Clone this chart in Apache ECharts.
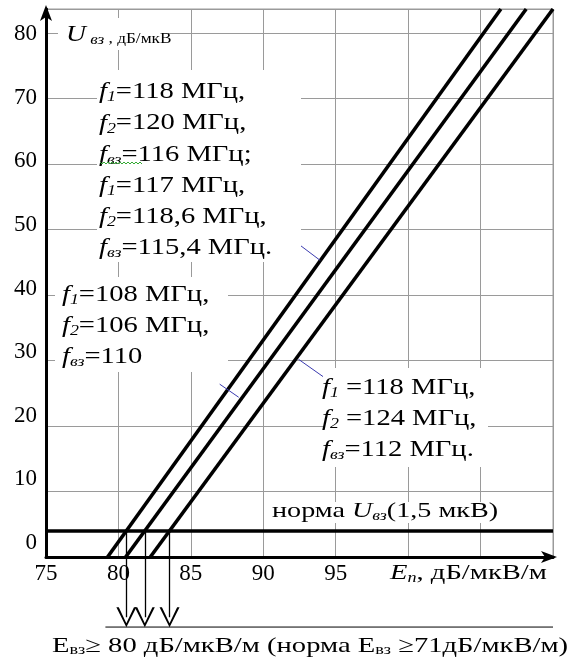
<!DOCTYPE html>
<html>
<head>
<meta charset="utf-8">
<script src="https://cdn.jsdelivr.net/npm/echarts@6/dist/echarts.min.js"></script>
<style>
html, body { margin: 0; padding: 0; background: #fff; }
#chart { width: 567px; height: 666px; }
</style>
</head>
<body>
<div id="chart"></div>
<script>
// E_n, дБ/мкВ/м on x ; U_вз, дБ/мкВ on y
var xTicks = [75, 80, 85, 90, 95];
var yTicks = [0, 10, 20, 30, 40, 50, 60, 70, 80];

// three intermodulation characteristics, end points [E_n, U_вз]
var line1 = [[79.25, 0], [106.4, 83.7]];
var line2 = [[80.5, 0], [108.15, 83.7]];
var line3 = [[82.2, 0], [110, 83.7]];

var normaU = 4; // норма U_вз (1,5 мкВ)

// thin blue callouts from the notes to the lines
var leader1 = [[92.55, 47.6], [93.93, 45.3]];
var leader2 = [[86.99, 26.4], [88.3, 24.4]];
var leader3 = [[92.43, 30.2], [94.16, 27.5]];

// notes: [subscript, text]
var note1 = [['1', '=118 МГц,'], ['2', '=120 МГц,'], ['вз', '=116 МГц;'],
             ['1', '=117 МГц,'], ['2', '=118,6 МГц,'], ['вз', '=115,4 МГц.']];
var note2 = [['1', '=108 МГц,'], ['2', '=106 МГц,'], ['вз', '=110']];
var note3 = [['1', ' =118 МГц,'], ['2', ' =124 МГц,'], ['вз', '=112 МГц.']];

var FONT = '"Liberation Serif", "Times New Roman", serif';
var ARROW_END = -9.2; // below the x axis, where the arrow shafts stop

function xAt(line, y) {
    var a = line[0], b = line[1];
    return a[0] + (b[0] - a[0]) * (y - a[1]) / (b[1] - a[1]);
}

function rich(size) {
    var sub = Math.round(size * 0.62);
    return {
        i: { fontStyle: 'italic', fontSize: size, fontFamily: FONT },
        s: { fontStyle: 'italic', fontSize: sub, fontFamily: FONT, padding: [Math.round(size * 0.45), 0, 0, 0] },
        u: { fontSize: sub, fontFamily: FONT, padding: [Math.round(size * 0.4), 0, 0, 0] },
        t: { fontSize: 15, fontFamily: FONT, padding: [8, 0, 0, 0] }
    };
}

function textEl(txt, x, y, size, sx) {
    return {
        type: 'text', x: x, y: y, scaleX: sx, z: 60,
        style: {
            text: txt, fontSize: size, fontFamily: FONT, fill: '#000',
            align: 'left', verticalAlign: 'middle', rich: rich(size)
        }
    };
}

function whiteBox(x, y, w, h) {
    return { type: 'rect', z: 50, shape: { x: x, y: y, width: w, height: h }, style: { fill: '#fff' } };
}

function noteEls(note, x, y0, step) {
    return note.map(function (n, k) {
        return textEl('{i|f}{s|' + n[0] + '}' + n[1], x, y0 + k * step, 24, 1.19);
    });
}

var graphics = [
    whiteBox(58, 18, 110, 32),
    whiteBox(97, 70, 204, 192),
    whiteBox(55, 277, 173, 95),
    whiteBox(323, 368, 165, 99),
    whiteBox(270, 502, 232, 21),
    textEl('{i|U}{s| вз}{t| , дБ/мкВ}', 66, 35, 24, 1.15),
    textEl('норма {i|U}{s|вз}(1,5 мкВ)', 272, 511, 22, 1.28),
    textEl('{i|E}{s|n}, дБ/мкВ/м', 390, 573, 22, 1.3),
    textEl('E{u|вз}≥ 80 дБ/мкВ/м (норма E{u|вз} ≥71дБ/мкВ/м)', 52, 646, 22, 1.3)
].concat(noteEls(note1, 99, 92, 31.2), noteEls(note2, 62, 295, 31), noteEls(note3, 322, 388, 31));

// green spell-check squiggle under f_вз
var squiggle = [];
for (var px = 100; px <= 142; px += 2) squiggle.push([px, (px / 2) % 2 ? 164 : 162]);
graphics.push({ type: 'polyline', z: 61, shape: { points: squiggle }, style: { stroke: '#3a3', lineWidth: 1, fill: null } });

var lines = [line1, line2, line3];
var series = lines.map(function (d, k) {
    var s = {
        type: 'line', data: d, symbol: 'none', silent: true, z: 5,
        lineStyle: { color: '#000', width: 3.6 }
    };
    if (k === 0) {
        s.markLine = {
            silent: true, symbol: 'none', label: { show: false },
            lineStyle: { color: '#000', width: 3.5, type: 'solid' },
            data: [{ yAxis: normaU }]
        };
    }
    return s;
});

// arrows from the norma crossings down to the baseline
series.push({
    type: 'lines', coordinateSystem: 'cartesian2d', clip: false, silent: true, z: 6,
    symbol: ['none', 'path://M0,16L5,0L10,16L8.8,16L5,3.2L1.2,16Z'], symbolSize: [10, 20],
    lineStyle: { color: '#000', width: 1.3, opacity: 1 },
    data: lines.map(function (d) {
        var xa = xAt(d, normaU);
        return { coords: [[xa, normaU], [xa, ARROW_END]] };
    })
});
series.push({
    type: 'line', clip: false, silent: true, symbol: 'none',
    lineStyle: { color: '#000', width: 1 },
    data: [[line1[0][0] - 0.15, ARROW_END - 1.5], [110, ARROW_END - 1.5]]
});
[leader1, leader2, leader3].forEach(function (d) {
    series.push({
        type: 'line', silent: true, symbol: 'none', z: 7,
        lineStyle: { color: '#3b3bb0', width: 1 }, data: d
    });
});

var chart = echarts.init(document.getElementById('chart'));
chart.setOption({
    animation: false,
    backgroundColor: '#fff',
    grid: [
        { left: 46, right: 14, top: 9, bottom: 109, show: true, borderColor: '#9a9a9a', borderWidth: 1 },
        { left: 46, right: 14, top: 34, bottom: 123 }
    ],
    xAxis: [{
        type: 'value', min: 75, max: 110, interval: 5,
        axisLine: { lineStyle: { color: '#000', width: 3 }, symbol: ['none', 'arrow'], symbolSize: [9, 16], symbolOffset: [0, 4] },
        axisTick: { show: false },
        splitLine: { lineStyle: { color: '#9a9a9a', width: 1 } },
        axisLabel: {
            margin: 5, color: '#000', fontSize: 23, fontFamily: FONT,
            formatter: function (v) { return xTicks.indexOf(v) >= 0 ? String(v) : ''; }
        }
    }, { gridIndex: 1, type: 'value', show: false, min: 75, max: 110 }],
    yAxis: [{
        type: 'value', min: 0, max: 83.7, interval: 10,
        axisLine: { lineStyle: { color: '#000', width: 3 }, symbol: ['none', 'arrow'], symbolSize: [9, 16], symbolOffset: [0, 4] },
        axisTick: { show: false },
        splitLine: { lineStyle: { color: '#9a9a9a', width: 1 } },
        axisLabel: { show: false }
    }, {
        gridIndex: 1, type: 'value', min: 0, max: 80, interval: 10,
        axisLine: { show: false }, axisTick: { show: false }, splitLine: { show: false },
        axisLabel: {
            margin: 9, color: '#000', fontSize: 23, fontFamily: FONT,
            formatter: function (v) { return yTicks.indexOf(v) >= 0 ? String(v) : ''; }
        }
    }],
    series: series,
    graphic: graphics
});
</script>
</body>
</html>
